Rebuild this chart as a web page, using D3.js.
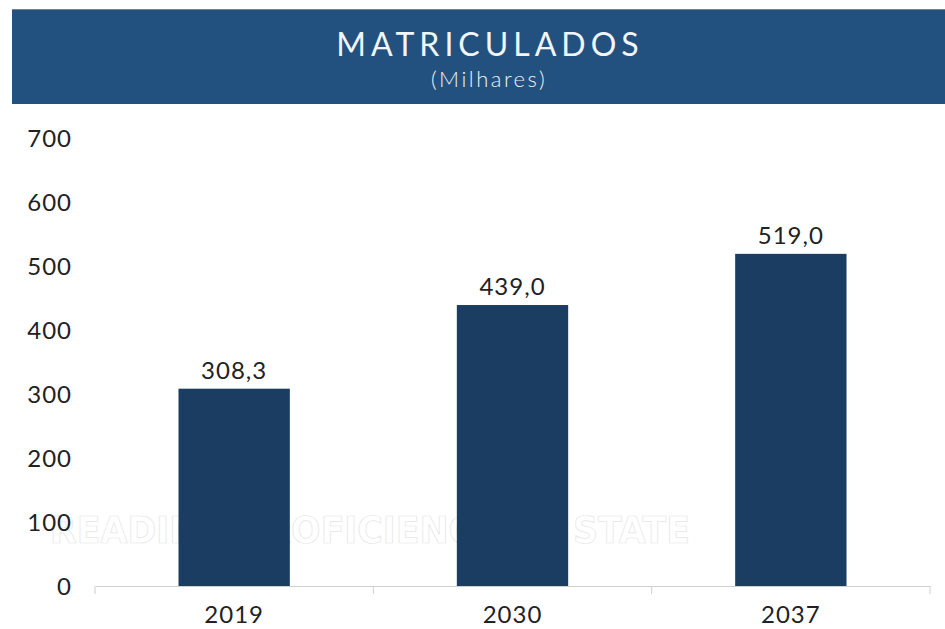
<!DOCTYPE html>
<html>
<head>
<meta charset="utf-8">
<script src="https://cdnjs.cloudflare.com/ajax/libs/d3/7.8.5/d3.min.js"></script>
<style>
body { margin: 0; background: #fff; }
text { font-family: Lato, "Open Sans", sans-serif; }
</style>
</head>
<body>
<script>
var years = ["2019", "2030", "2037"]
var values = [308.3, 439.0, 519.0]
var yTicks = [0, 100, 200, 300, 400, 500, 600, 700]
var title = "MATRICULADOS"
var subtitle = "(Milhares)"
var watermark = "READING PROFICIENCY BY STATE"

var W = 945, H = 629

var svg = d3.select("body").append("svg")
    .attr("width", W)
    .attr("height", H)

// header band
svg.append("rect")
    .attr("x", 12).attr("y", 9)
    .attr("width", W - 12).attr("height", 95)
    .attr("fill", "#23517f")
svg.append("line")
    .attr("x1", 12).attr("x2", W).attr("y1", 9.5).attr("y2", 9.5)
    .attr("stroke", "#6f8296")

svg.append("text")
    .attr("x", 490).attr("y", 56)
    .attr("text-anchor", "middle")
    .attr("fill", "#f2f5f8")
    .style("font-size", "32px")
    .style("font-weight", 400)
    .style("letter-spacing", "5px")
    .text(title)

svg.append("text")
    .attr("x", 489).attr("y", 87)
    .attr("text-anchor", "middle")
    .attr("fill", "#eef2f6")
    .style("font-size", "22px")
    .style("font-weight", 300)
    .style("letter-spacing", "2.5px")
    .text(subtitle)

var x = d3.scaleBand()
    .domain(years)
    .range([95, 930])
    .paddingInner(0.6)
    .paddingOuter(0.3)

var y = d3.scaleLinear()
    .domain([0, 700])
    .range([586, 138])

// faded watermark behind the bars
svg.append("text")
    .attr("x", 50).attr("y", 543)
    .attr("textLength", 640)
    .attr("lengthAdjust", "spacingAndGlyphs")
    .attr("fill", "#ffffff")
    .attr("stroke", "#e6e6e6")
    .attr("stroke-width", 0.7)
    .style("font-size", "38px")
    .style("font-weight", "bold")
    .style("font-family", "'Liberation Sans Narrow', 'DejaVu Sans Condensed', sans-serif")
    .text(watermark)

var yAxis = svg.append("g")
    .attr("transform", "translate(72,0)")
    .call(d3.axisLeft(y).tickValues(yTicks).tickSize(0).tickPadding(0))
yAxis.select(".domain").remove()
yAxis.selectAll("text")
    .attr("fill", "#222")
    .attr("dy", "0.36em")
    .style("font-size", "24px")
    .style("font-family", "Lato, sans-serif")
    .style("letter-spacing", "1px")

var xAxis = svg.append("g")
    .attr("transform", "translate(0,586)")
    .call(d3.axisBottom(x).tickSize(0).tickPadding(20))
xAxis.select(".domain")
    .attr("stroke", "#cfcfcf")
xAxis.selectAll("text")
    .attr("fill", "#222")
    .style("font-size", "24px")
    .style("font-family", "Lato, sans-serif")
    .style("letter-spacing", "1px")

// category boundary ticks
var bounds = d3.range(years.length + 1).map(function (i) { return x.range()[0] + i * x.step() })
svg.append("g").selectAll("line")
    .data(bounds)
    .join("line")
    .attr("x1", function (d) { return d }).attr("x2", function (d) { return d })
    .attr("y1", 586).attr("y2", 594)
    .attr("stroke", "#cfcfcf")

svg.append("g").selectAll("rect")
    .data(values)
    .join("rect")
    .attr("x", function (d, i) { return x(years[i]) })
    .attr("y", function (d) { return y(d) })
    .attr("width", x.bandwidth())
    .attr("height", function (d) { return y(0) - y(d) })
    .attr("fill", "#1b3d61")

svg.append("g").selectAll("text")
    .data(values)
    .join("text")
    .attr("x", function (d, i) { return x(years[i]) + x.bandwidth() / 2 })
    .attr("y", function (d) { return y(d) - 10 })
    .attr("text-anchor", "middle")
    .attr("fill", "#222")
    .style("font-size", "24px")
    .style("letter-spacing", "1px")
    .text(function (d) { return d.toFixed(1).replace(".", ",") })
</script>
</body>
</html>
